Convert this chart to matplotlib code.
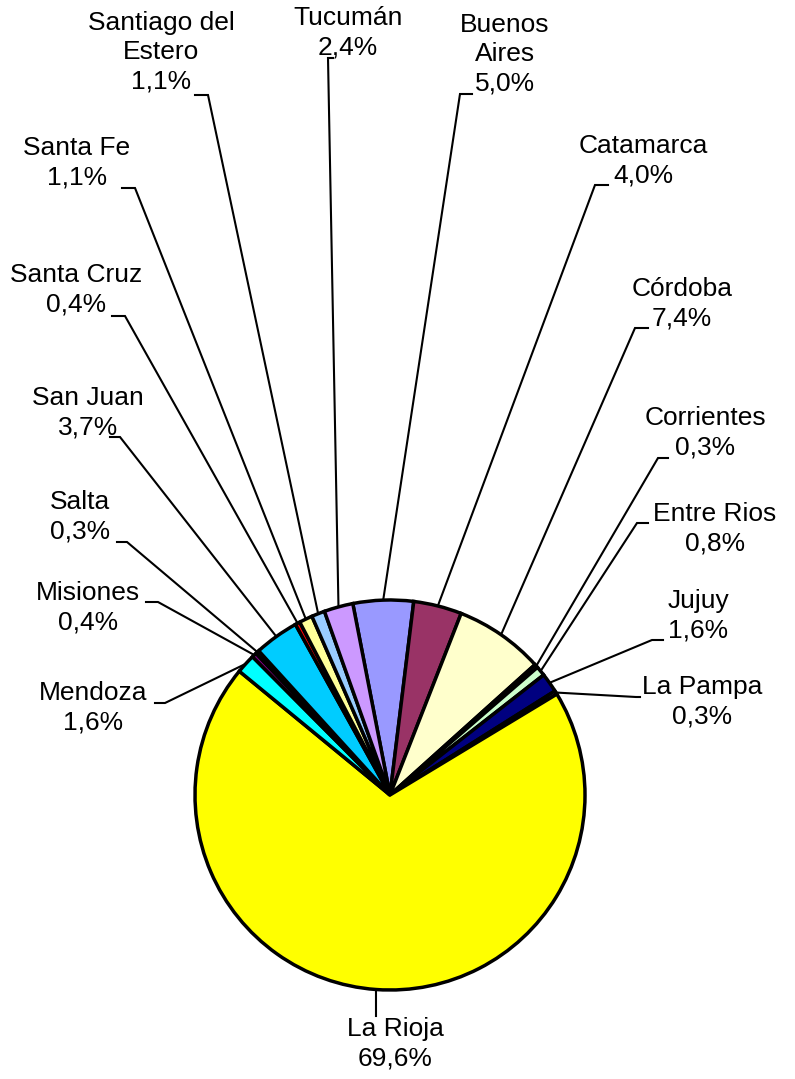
import numpy as np
import matplotlib
matplotlib.use("Agg")
import matplotlib.pyplot as plt

plt.rcParams['font.family'] = ['Liberation Sans', 'DejaVu Sans']

provincias = ['Buenos Aires', 'Catamarca', 'Córdoba', 'Corrientes', 'Entre Rios',
              'Jujuy', 'La Pampa', 'La Rioja', 'Mendoza', 'Misiones', 'Salta',
              'San Juan', 'Santa Cruz', 'Santa Fe', 'Santiago del Estero', 'Tucumán']
valores = [5.0, 4.0, 7.4, 0.3, 0.8, 1.6, 0.3, 69.6, 1.6, 0.4, 0.3, 3.7, 0.4, 1.1, 1.1, 2.4]
colores = ['#9999FF', '#993366', '#FFFFCC', '#333333', '#CCFFCC', '#000080', '#CC33CC',
           '#FFFF00', '#00FFFF', '#800080', '#000080', '#00CCFF', '#FF0000', '#FFFF99',
           '#99CCFF', '#CC99FF']

# label text as drawn (line breaks)
nombres = {'Buenos Aires': 'Buenos\nAires', 'Santiago del Estero': 'Santiago del\nEstero'}

# layout in pixel coords (y from top): text center, then leader stub (corner, end)
txt_pos = {
    'Buenos Aires': (505, 54), 'Catamarca': (643, 161), 'Córdoba': (682, 304),
    'Corrientes': (705, 433), 'Entre Rios': (715, 529), 'Jujuy': (698, 616),
    'La Pampa': (702, 702), 'La Rioja': (395, 1044), 'Mendoza': (93, 708),
    'Misiones': (88, 608), 'Salta': (80, 517), 'San Juan': (88, 413),
    'Santa Cruz': (76, 290), 'Santa Fe': (77, 163), 'Santiago del Estero': (161, 52),
    'Tucumán': (348, 33)}
stubs = {
    'Buenos Aires': ((460, 94), (472, 94)), 'Catamarca': ((595, 185), (608, 185)),
    'Córdoba': ((635, 328), (648, 328)), 'Corrientes': ((658, 458), (668, 458)),
    'Entre Rios': ((637, 523), (648, 523)), 'Jujuy': ((652, 640), (663, 640)),
    'La Pampa': ((636, 697), (640, 697)), 'La Rioja': ((376, 1016), (376, 1016)),
    'Mendoza': ((165, 703), (155, 703)), 'Misiones': ((158, 602), (146, 602)),
    'Salta': ((127, 542), (117, 542)), 'San Juan': ((120, 437), (110, 437)),
    'Santa Cruz': ((125, 316), (112, 316)), 'Santa Fe': ((135, 188), (122, 188)),
    'Santiago del Estero': ((208, 95), (195, 95)), 'Tucumán': ((328, 58), (333, 58))}

W, H = 795, 1079
cx, cy, R = 390, 795, 195
start = 101


def py(y):
    return H - y


fig = plt.figure(figsize=(W / 100, H / 100), dpi=100)
ax = fig.add_axes([0, 0, 1, 1])
ax.pie(valores, colors=colores, startangle=start, counterclock=False,
       center=(cx, py(cy)), radius=R, frame=False,
       wedgeprops=dict(edgecolor='black', linewidth=2.5))
ax.set_xlim(0, W)
ax.set_ylim(0, H)
ax.set_aspect('equal')
ax.axis('off')

cum = np.cumsum([0] + valores[:-1])
for i, p in enumerate(provincias):
    mid = np.deg2rad(start - 360 * (cum[i] + valores[i] / 2) / 100)
    ex, ey = cx + R * np.cos(mid), py(cy) + R * np.sin(mid)
    (c1x, c1y), (c2x, c2y) = stubs[p]
    ax.plot([ex, c1x, c2x], [ey, py(c1y), py(c2y)], color='black', lw=1.5,
            solid_joinstyle='miter', zorder=0)
    etiqueta = nombres.get(p, p) + '\n' + f'{valores[i]:.1f}'.replace('.', ',') + '%'
    tx, ty = txt_pos[p]
    ax.text(tx, py(ty), etiqueta, ha='center', va='center', fontsize=19,
            linespacing=1.28, color='black')

fig.savefig('out.png', dpi=100)
